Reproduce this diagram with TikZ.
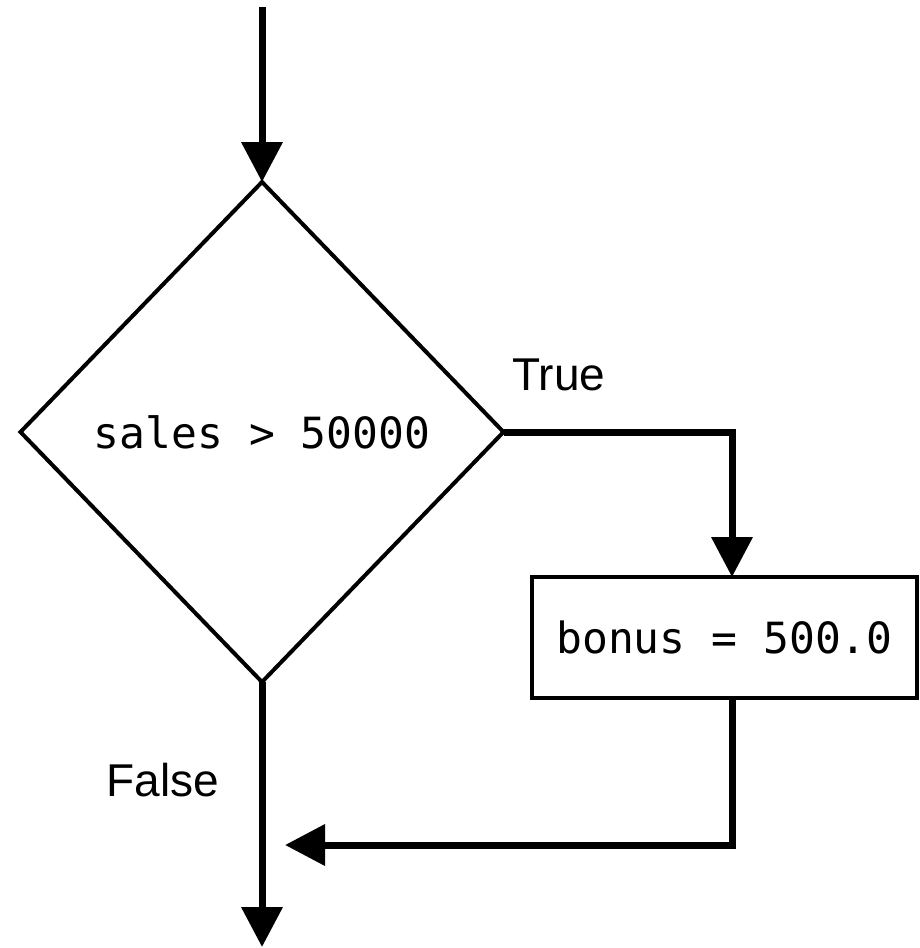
\documentclass[tikz,border=0pt]{standalone}
\usepackage{fontspec}
\setmainfont{Liberation Sans}
\setmonofont{DejaVu Sans Mono}
\usetikzlibrary{shapes.geometric,arrows.meta}

\begin{document}
\begin{tikzpicture}
    \tikzset{x=0.5pt,y=-0.5pt,>={Triangle[length=20pt,width=20pt]},
      decision/.style={diamond,draw,line width=2pt,minimum width=241.5pt,minimum height=250pt,
        inner sep=0pt,outer sep=0pt,font=\fontsize{21.5}{26}\selectfont\ttfamily},
      process/.style={rectangle,draw,line width=2pt,minimum width=192.5pt,minimum height=60.5pt,
        inner sep=0pt,outer sep=0pt,font=\fontsize{21.5}{26}\selectfont\ttfamily},
      flow/.style={line width=3.5pt,->},
      branch text/.style={inner sep=0pt,anchor=base west,font=\fontsize{23}{28}\selectfont}}
    \useasboundingbox (0,0) rectangle (920,948);
%    decision and its one statement
    \node [decision] (test) at (262,432) {sales > 50000};
    \node [process]  (bonus) at (724.5,637.5) {bonus = 500.0};
    \coordinate (start) at (262,7);
    \coordinate (stop)  at (262,947);
    \coordinate (turn)  at (732,432);
    \coordinate (join)  at (262,845);
%    connectors
    \draw [flow] (start) -- (test.north);
    \draw [flow] (test.south) -- (stop);
    \draw [flow] (test.east) -- (turn) -- (turn |- bonus.north);
    \draw [flow,shorten >=11.5pt] (turn |- bonus.south) |- (join);
    \node [branch text] (true)  at (512,390) {True};
    \node [branch text] (false) at (106,796) {False};
\end{tikzpicture}
\end{document}
